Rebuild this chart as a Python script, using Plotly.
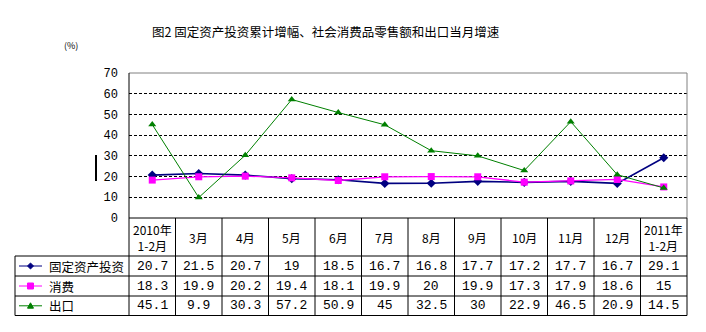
import plotly.graph_objects as go

# Monthly growth rates (%), Jan-Feb 2010 to Jan-Feb 2011
categories = ["2010年<br>1-2月", "3月", "4月", "5月", "6月", "7月", "8月",
              "9月", "10月", "11月", "12月", "2011年<br>1-2月"]
investment = [20.7, 21.5, 20.7, 19, 18.5, 16.7, 16.8, 17.7, 17.2, 17.7, 16.7, 29.1]
consumption = [18.3, 19.9, 20.2, 19.4, 18.1, 19.9, 20, 19.9, 17.3, 17.9, 18.6, 15]
exports = [45.1, 9.9, 30.3, 57.2, 50.9, 45, 32.5, 30, 22.9, 46.5, 20.9, 14.5]
series_names = ["固定资产投资", "消费", "出口"]
y_ticks = [0, 10, 20, 30, 40, 50, 60, 70]

W, H = 706, 332
L, R, T, B = 129, 687, 73, 218      # plot area in pixels
COLORS = ["#000080", "#FF00FF", "#008000"]
SYMBOLS = ["diamond", "square", "triangle-up"]
MSIZE = [7, 7, 7]
LWIDTH = [1.6, 1.3, 1]

MONO = "Liberation Mono, Noto Sans CJK SC, monospace"
CJK = "Noto Sans CJK SC, sans-serif"


def px(x):
    return (x - L) / (R - L)


def py(y):
    return (B - y) / (B - T)


def key_path(kind, cx, cy, r=3):
    """SVG path (paper coords) for a small legend-key marker."""
    if kind == "diamond":
        pts = [(cx, cy - r), (cx + r, cy), (cx, cy + r), (cx - r, cy)]
    elif kind == "square":
        pts = [(cx - r, cy - r), (cx + r, cy - r), (cx + r, cy + r), (cx - r, cy + r)]
    else:
        pts = [(cx, cy - r), (cx + r, cy + r * 0.8), (cx - r, cy + r * 0.8)]
    d = "M " + " L ".join(f"{px(x):.5f},{py(y):.5f}" for x, y in pts) + " Z"
    return d


n = len(categories)
xs = list(range(n))
fig = go.Figure()
for vals, name, c, s, ms, lw in zip([investment, consumption, exports], series_names,
                                    COLORS, SYMBOLS, MSIZE, LWIDTH):
    fig.add_trace(go.Scatter(x=xs, y=vals, name=name, mode="lines+markers",
                             line=dict(color=c, width=lw),
                             marker=dict(symbol=s, size=ms, color=c),
                             showlegend=False, cliponaxis=False))

shapes = []
line_k = dict(color="black", width=1)
# plot frame: gray top and right, black left axis
shapes.append(dict(type="line", xref="paper", yref="paper", x0=0, x1=1, y0=1, y1=1,
                   line=dict(color="#808080", width=1)))
shapes.append(dict(type="line", xref="paper", yref="paper", x0=1, x1=1, y0=0, y1=1,
                   line=dict(color="#808080", width=1)))
shapes.append(dict(type="line", xref="paper", yref="paper", x0=0, x1=0, y0=0, y1=1,
                   line=line_k))

# data table below the plot
row_lines = [218, 256, 276, 296, 315.5]
col_w = (R - L) / n
for i, yl in enumerate(row_lines):
    x0 = L if i == 0 else 15
    shapes.append(dict(type="line", xref="paper", yref="paper", x0=px(x0), x1=px(R),
                       y0=py(yl), y1=py(yl), line=line_k))
for k in range(n + 1):
    xl = L + k * col_w
    shapes.append(dict(type="line", xref="paper", yref="paper", x0=px(xl), x1=px(xl),
                       y0=py(218), y1=py(315.5), line=line_k))
shapes.append(dict(type="line", xref="paper", yref="paper", x0=px(15), x1=px(15),
                   y0=py(256), y1=py(315.5), line=line_k))
# short vertical bar beside the axis
shapes.append(dict(type="line", xref="paper", yref="paper", x0=px(96), x1=px(96),
                   y0=py(155), y1=py(181), line=dict(color="black", width=2)))

annotations = []
annotations.append(dict(text="图2 固定资产投资累计增幅、社会消费品零售额和出口当月增速",
                        xref="paper", yref="paper", x=px(326), y=py(31),
                        showarrow=False, font=dict(family=CJK, size=12.5, color="black"),
                        xanchor="center", yanchor="middle"))
annotations.append(dict(text="(%)", xref="paper", yref="paper", x=px(71), y=py(45),
                        showarrow=False, font=dict(family=CJK, size=9, color="black"),
                        xanchor="center", yanchor="middle"))

for i, cat in enumerate(categories):
    annotations.append(dict(text=cat, xref="x", yref="paper", x=i, y=py(237),
                            showarrow=False, font=dict(family=CJK, size=12, color="black"),
                            xanchor="center", yanchor="middle", align="center"))

row_centers = [266, 286, 305.8]
for r, (vals, name, c, s) in enumerate(zip([investment, consumption, exports],
                                          series_names, COLORS, SYMBOLS)):
    yc = row_centers[r]
    for i, v in enumerate(vals):
        annotations.append(dict(text=f"{v:g}", xref="x", yref="paper", x=i, y=py(yc),
                                showarrow=False, font=dict(family=MONO, size=13, color="black"),
                                xanchor="center", yanchor="middle"))
    annotations.append(dict(text=name, xref="paper", yref="paper", x=px(47),
                            y=py(yc), showarrow=False,
                            font=dict(family=CJK, size=12.5, color="black"),
                            xanchor="left", yanchor="middle"))
    shapes.append(dict(type="line", xref="paper", yref="paper", x0=px(19), x1=px(42),
                       y0=py(yc), y1=py(yc), line=dict(color=c, width=1)))
    shapes.append(dict(type="path", xref="paper", yref="paper",
                       path=key_path(s, 30.5, yc), fillcolor=c,
                       line=dict(color=c, width=1)))

fig.update_layout(
    width=W, height=H,
    margin=dict(l=L, r=W - R, t=T, b=H - B),
    paper_bgcolor="white", plot_bgcolor="white",
    shapes=shapes, annotations=annotations,
    xaxis=dict(range=[-0.5, n - 0.5], showticklabels=False, showgrid=False,
               zeroline=False, showline=False, fixedrange=True),
    yaxis=dict(range=[0, 70], tickvals=y_ticks, showgrid=True, gridcolor="black",
               griddash="3px,2px", gridwidth=1, zeroline=False, showline=False,
               ticks="", ticklabelstandoff=10, fixedrange=True,
               tickfont=dict(family=MONO, size=12, color="black")),
)

fig.write_html("out.html", config={"displayModeBar": False})
